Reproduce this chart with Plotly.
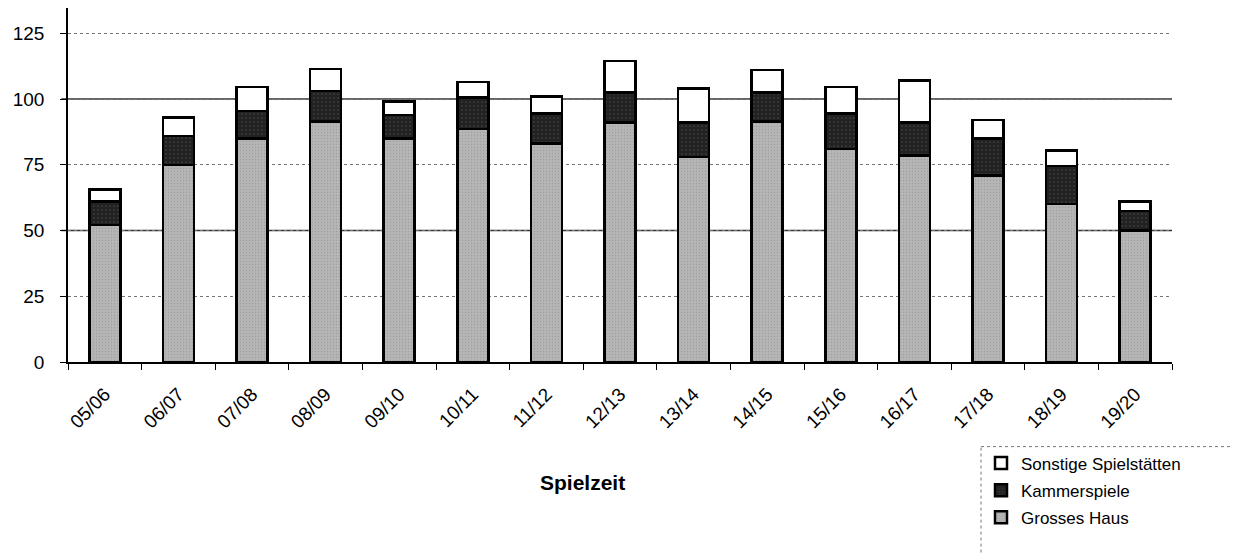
import plotly.graph_objects as go

seasons = ["05/06", "06/07", "07/08", "08/09", "09/10", "10/11", "11/12", "12/13",
           "13/14", "14/15", "15/16", "16/17", "17/18", "18/19", "19/20"]
grosses_haus = [52, 75, 85, 91.5, 85, 88.5, 83, 91, 78, 91.5, 81, 78.5, 71, 60, 50]
kammerspiele = [9, 11, 10.5, 11.5, 9, 12, 11.5, 11.5, 13, 11, 13.5, 12.5, 14, 14.5, 7.5]
sonstige = [4.5, 7, 9, 8.5, 5, 6, 6.5, 12, 13, 8.5, 10, 16, 7, 6, 3.5]
y_ticks = [0, 25, 50, 75, 100, 125]

FONT = "Liberation Sans, Arial, sans-serif"
line = dict(color="black", width=2.5)

fig = go.Figure()
fig.add_trace(go.Bar(x=seasons, y=grosses_haus, name="Grosses Haus", legendgroup="g", legendrank=3,
                     marker=dict(color="#b5b5b5", line=line,
                                 pattern=dict(shape=".", fgcolor="#888888", size=3, solidity=0.15))))
fig.add_trace(go.Bar(x=seasons, y=kammerspiele, name="Kammerspiele", legendgroup="k", legendrank=2,
                     marker=dict(color="#222222", line=line,
                                 pattern=dict(shape=".", fgcolor="#666666", size=4, solidity=0.15))))
fig.add_trace(go.Bar(x=seasons, y=sonstige, name="Sonstige Spielstätten", legendgroup="s", legendrank=1,
                     marker=dict(color="white", line=line)))

for yv in [50, 100]:
    fig.add_shape(type="line", xref="paper", yref="y", x0=-0.006, x1=1, y0=yv, y1=yv,
                  line=dict(color="#333333", width=1.3), layer="below")

fig.add_shape(type="rect", xref="paper", yref="paper", x0=0.827, x1=1.07, y0=-0.239, y1=-0.58,
              line=dict(color="#777777", width=1, dash="dot"))

fig.add_annotation(text="<b>Spielzeit</b>", xref="paper", yref="paper", x=0.4656, y=-0.341,
                   showarrow=False, font=dict(size=21, family=FONT, color="black"),
                   xanchor="center", yanchor="middle")

fig.update_layout(
    barmode="stack",
    bargap=0.58,
    width=1240, height=555,
    margin=dict(l=60, r=76, t=0, b=201),
    plot_bgcolor="white", paper_bgcolor="white",
    font=dict(family=FONT, size=18, color="black"),
    showlegend=True,
    legend=dict(x=0.827, y=-0.236, xanchor="left", yanchor="top",
                traceorder="grouped", font=dict(size=17, family=FONT),
                itemwidth=30, tracegroupgap=2, bgcolor="rgba(0,0,0,0)"),
    xaxis=dict(showline=True, linecolor="black", linewidth=1.5,
               ticks="outside", ticklen=6, tickcolor="black",
               tickson="boundaries", tickangle=-45, ticklabelstandoff=12,
               tickfont=dict(size=19, family=FONT)),
    yaxis=dict(range=[0, 134.6], tickvals=y_ticks, showline=True, linecolor="black", linewidth=1.5,
               ticks="outside", ticklen=6, tickcolor="black", ticklabelstandoff=12,
               showgrid=True, gridcolor="#777777", griddash="dot", gridwidth=1,
               zeroline=False, tickfont=dict(size=19, family=FONT)),
)

fig.write_html("out.html")
